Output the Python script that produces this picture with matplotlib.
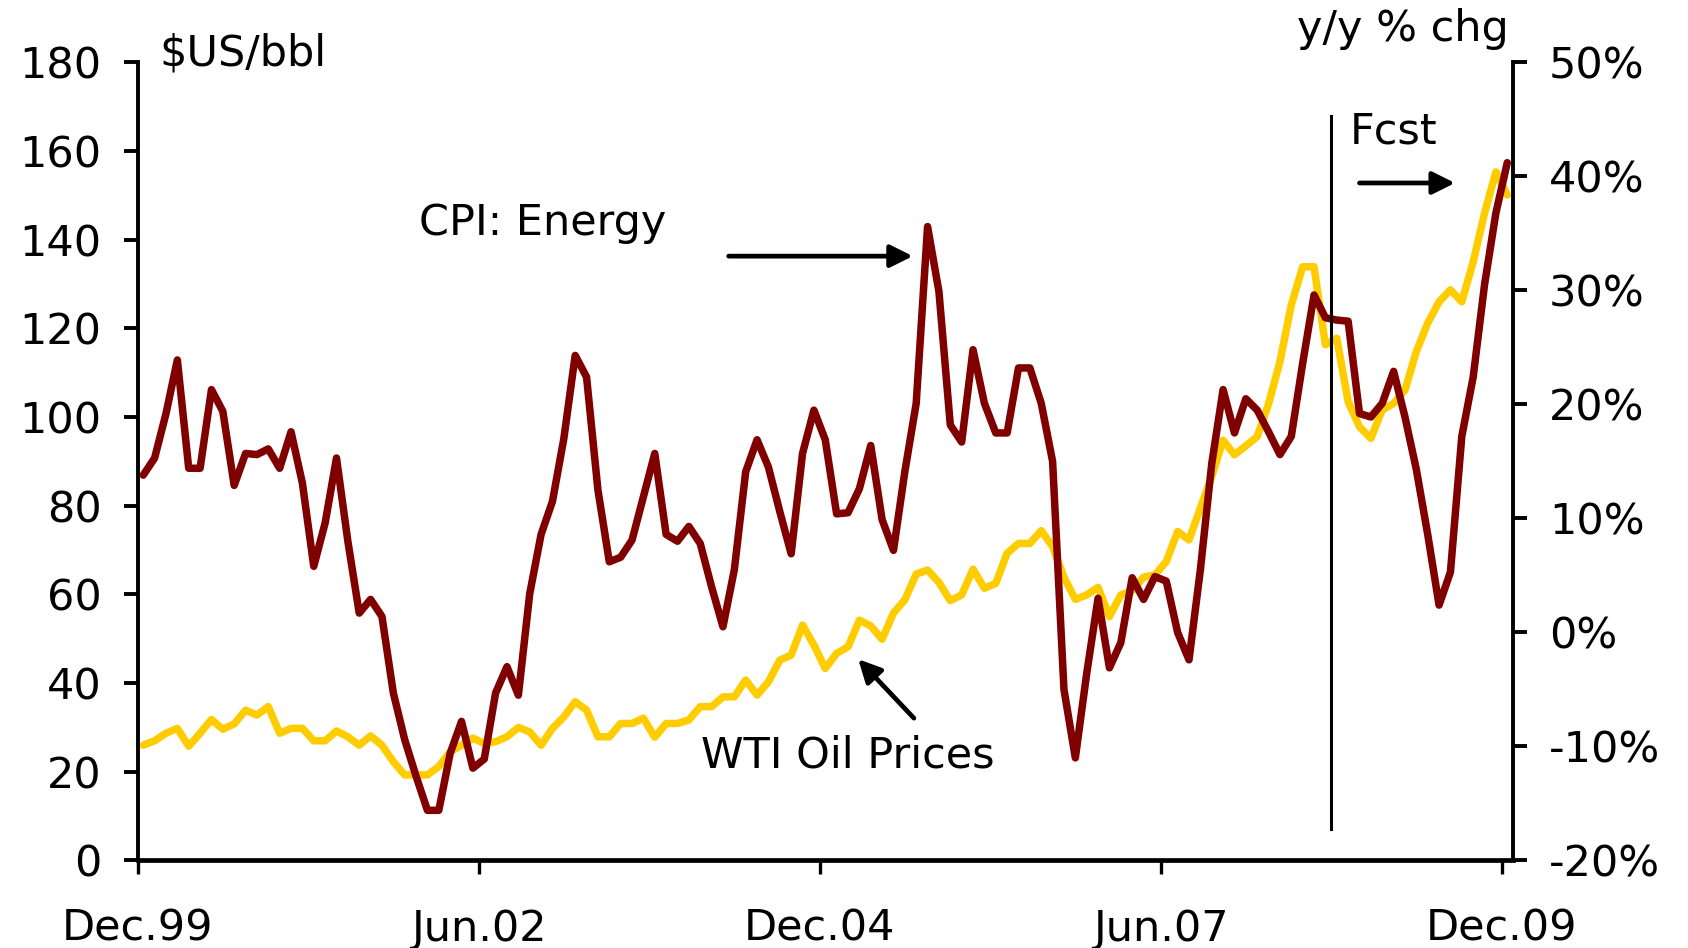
import numpy as np
import matplotlib
matplotlib.use("Agg")
import matplotlib.pyplot as plt

# ---------------- data (monthly, Dec.99 .. Dec.09) ----------------
x_tick_labels = ["Dec.99", "Jun.02", "Dec.04", "Jun.07", "Dec.09"]
x_tick_months = [0, 30, 60, 90, 120]

left_ticks = [0, 20, 40, 60, 80, 100, 120, 140, 160, 180]
right_ticks = [-20, -10, 0, 10, 20, 30, 40, 50]
right_tick_labels = ["-20%", "-10%", "0%", "10%", "20%", "30%", "40%", "50%"]

wti_oil = [
    26.0, 27.0, 28.7, 29.8, 25.8, 28.7, 31.8, 29.6, 30.8, 33.9,
    32.8, 34.7, 28.7, 29.8, 29.8, 27.0, 27.0, 29.2, 27.9, 26.0,
    28.1, 26.0, 22.3, 19.3, 19.3, 19.3, 21.2, 24.5, 26.0, 27.6,
    26.4, 26.8, 27.9, 30.0, 29.0, 26.0, 29.8, 32.4, 35.8, 33.9,
    27.9, 27.9, 30.9, 30.9, 32.1, 27.8, 30.9, 30.9, 31.7, 34.7,
    34.7, 36.9, 36.9, 40.7, 37.3, 40.3, 45.2, 46.3, 53.1, 48.6,
    43.3, 46.7, 48.2, 54.2, 52.9, 49.9, 55.8, 58.8, 64.6, 65.5,
    62.7, 58.6, 59.9, 65.7, 61.4, 62.5, 69.3, 71.5, 71.5, 74.4,
    70.8, 63.9, 58.9, 59.9, 61.6, 55.0, 59.9, 60.8, 63.9, 64.4,
    67.4, 74.2, 72.3, 79.5, 86.6, 94.8, 91.5, 93.5, 95.6, 103.0,
    112.5, 125.3, 133.9, 133.9, 116.3, 117.8, 103.5, 97.8, 95.2, 101.6,
    103.1, 106.1, 114.8, 121.2, 126.0, 128.7, 126.0, 135.0, 146.0, 155.3,
    150.1,
]

cpi_energy_yoy = [
    13.8, 15.3, 19.2, 23.9, 14.4, 14.4, 21.3, 19.4, 12.9, 15.7,
    15.6, 16.1, 14.4, 17.6, 13.1, 5.8, 9.6, 15.3, 8.0, 1.7,
    2.9, 1.4, -5.3, -9.4, -12.6, -15.6, -15.6, -10.6, -7.8, -11.9,
    -11.1, -5.3, -3.0, -5.5, 3.4, 8.6, 11.5, 17.0, 24.3, 22.4,
    12.5, 6.2, 6.6, 8.1, 11.9, 15.7, 8.6, 8.0, 9.3, 7.8,
    4.0, 0.5, 5.5, 14.1, 16.9, 14.5, 10.6, 6.9, 15.7, 19.5,
    16.9, 10.4, 10.5, 12.6, 16.4, 9.9, 7.2, 14.1, 20.1, 35.6,
    29.9, 18.2, 16.7, 24.8, 20.1, 17.5, 17.5, 23.2, 23.2, 20.1,
    15.0, -5.0, -11.0, -3.6, 3.0, -3.1, -0.9, 4.8, 2.9, 4.9,
    4.5, 0.0, -2.4, 5.5, 14.8, 21.3, 17.5, 20.5, 19.5, 17.6,
    15.6, 17.2, 23.6, 29.6, 27.6, 27.4, 27.3, 19.2, 18.9, 20.1,
    22.9, 18.9, 14.3, 8.6, 2.4, 5.3, 17.2, 22.4, 30.5, 36.8,
    41.2,
]

n_months = len(wti_oil)
x = np.arange(n_months) + 0.5   # points centred in monthly categories

# ---------------- figure ----------------
FS = 31
plt.rcParams["font.family"] = ["DejaVu Sans"]

fig = plt.figure(figsize=(16.88, 9.48), dpi=100)
ax = fig.add_axes([0.0815, 0.0923, 0.8148, 0.8419])
ax2 = ax.twinx()

ax.plot(x, wti_oil, color="#FFCC00", lw=5.4, solid_joinstyle="round",
        solid_capstyle="round", zorder=2)
ax2.plot(x, cpi_energy_yoy, color="#800000", lw=5.4, solid_joinstyle="round",
         solid_capstyle="round", zorder=3)

ax.set_xlim(0, n_months)
ax.set_ylim(0, 180)
ax2.set_ylim(-20, 50)

ax.set_yticks(left_ticks)
ax.set_yticklabels([str(v) for v in left_ticks])
ax2.set_yticks(right_ticks)
ax2.set_yticklabels(right_tick_labels)
ax.set_xticks(x_tick_months)
ax.set_xticklabels(x_tick_labels)

for a in (ax, ax2):
    a.spines["top"].set_visible(False)
ax.spines["right"].set_visible(False)
ax2.spines["left"].set_visible(False)
ax2.spines["bottom"].set_visible(False)
ax.spines["left"].set_linewidth(2.8)
ax.spines["bottom"].set_linewidth(3.4)
ax2.spines["right"].set_linewidth(2.8)

ax.tick_params(axis="y", direction="out", length=10, width=2.8, pad=16, labelsize=FS)
ax.tick_params(axis="x", direction="out", length=10, width=2.4, pad=24, labelsize=FS)
ax2.tick_params(axis="y", direction="out", length=10, width=2.8, pad=16, labelsize=FS)

# forecast divider
ax2.plot([105, 105], [-17.2, 45.3], color="black", lw=2.2, zorder=4)

# annotations
ax.text(1.9, 182, "$US/bbl", fontsize=FS, ha="left", va="center")
ax.text(120.6, 187.5, "y/y % chg", fontsize=FS, ha="right", va="center", clip_on=False)
ax.text(106.6, 164.5, "Fcst", fontsize=FS, ha="left", va="center")
ax.text(24.8, 143.8, "CPI: Energy", fontsize=FS, ha="left", va="center")
ax.text(49.6, 23.6, "WTI Oil Prices", fontsize=FS, ha="left", va="center")

arrow = dict(arrowstyle="-|>", lw=3.4, color="black", mutation_scale=34,
             shrinkA=0, shrinkB=0, capstyle="round")
ax.annotate("", xy=(68.2, 136.3), xytext=(52.0, 136.3), arrowprops=arrow)
ax.annotate("", xy=(63.4, 45.4), xytext=(68.3, 32.1), arrowprops=arrow)
ax.annotate("", xy=(115.9, 152.8), xytext=(107.5, 152.8), arrowprops=arrow)

fig.savefig("out.png", dpi=100)
